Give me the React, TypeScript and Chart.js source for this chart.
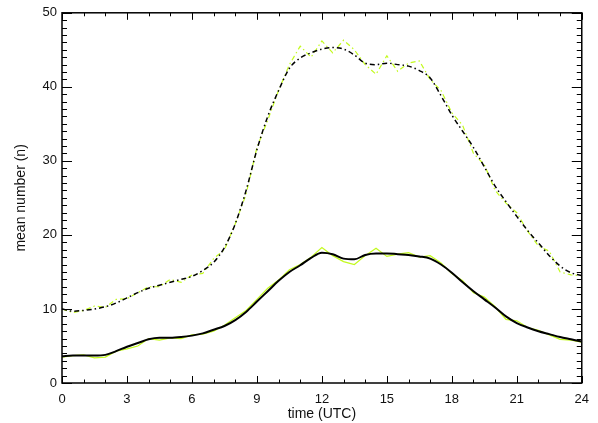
import React, { useEffect, useRef } from "react";
import { Chart, registerables } from "chart.js";

Chart.register(...registerables);

const hours = [
  0, 0.5, 1, 1.5, 2, 2.5, 3, 3.5, 4, 4.5, 5, 5.5, 6, 6.5, 7, 7.5, 8, 8.5, 9, 9.5,
  10, 10.5, 11, 11.5, 12, 12.5, 13, 13.5, 14, 14.5, 15, 15.5, 16, 16.5, 17, 17.5,
  18, 18.5, 19, 19.5, 20, 20.5, 21, 21.5, 22, 22.5, 23, 23.5, 24,
];

const upperSmooth = [
  10.0, 9.7, 9.8, 10.0, 10.3, 10.8, 11.5, 12.2, 12.8, 13.2, 13.6, 14.0, 14.4, 15.2,
  16.3, 18.3, 21.5, 26.0, 31.5, 36.0, 39.5, 42.5, 43.9, 44.6, 45.1, 45.3, 45.1, 44.3,
  43.2, 43.0, 43.2, 43.0, 42.8, 42.2, 41.2, 38.8, 36.2, 34.0, 31.8, 29.2, 26.6, 24.5,
  22.5, 20.6, 18.9, 17.2, 15.8, 14.9, 14.5,
];

const upperRaw = [
  10.0, 9.5, 9.8, 10.4, 10.2, 11.3, 11.4, 12.2, 13.0, 13.0, 14.0, 13.6, 14.6, 14.8,
  16.8, 18.0, 21.5, 25.5, 31.8, 35.5, 39.5, 43.0, 45.5, 44.0, 46.2, 44.6, 46.3, 45.0,
  43.0, 41.7, 44.2, 42.1, 43.2, 43.5, 41.0, 39.5, 36.5, 34.8, 31.0, 29.5, 26.0, 24.3,
  23.0, 20.5, 18.5, 17.8, 15.0, 14.6, 14.5,
];

const lowerSmooth = [
  3.6, 3.7, 3.7, 3.7, 3.8, 4.3, 4.9, 5.4, 5.9, 6.1, 6.1, 6.2, 6.4, 6.7, 7.2, 7.7,
  8.5, 9.6, 11.0, 12.4, 13.8, 15.0, 15.9, 16.9, 17.6, 17.4, 16.8, 16.7, 17.3, 17.5,
  17.5, 17.4, 17.3, 17.1, 16.8, 16.0, 14.9, 13.6, 12.4, 11.3, 10.2, 9.0, 8.1, 7.5,
  7.0, 6.6, 6.2, 5.9, 5.6,
];

const lowerRaw = [
  3.5, 3.7, 3.8, 3.4, 3.5, 4.3, 4.6, 5.0, 6.0, 5.8, 6.1, 6.0, 6.5, 6.6, 7.0, 7.8,
  8.8, 9.8, 11.3, 12.8, 13.9, 15.3, 16.0, 17.0, 18.3, 17.2, 16.4, 16.0, 17.2, 18.2,
  17.1, 17.4, 17.6, 17.0, 17.2, 16.2, 14.8, 13.8, 12.2, 11.6, 10.3, 8.6, 8.4, 7.5,
  7.1, 6.5, 5.9, 5.8, 5.5,
];

const xTicks = [0, 3, 6, 9, 12, 15, 18, 21, 24];
const xMinor = [1, 2, 4, 5, 7, 8, 10, 11, 13, 14, 16, 17, 19, 20, 22, 23];
const yTicks = [0, 10, 20, 30, 40, 50];

const FONT = "'Liberation Sans', 'DejaVu Sans', sans-serif";
const YELLOW = "rgb(195,250,30)";
const DASHDOT = [5, 3, 1.5, 3];

const framePlugin = {
  id: "frame",
  afterDraw(chart: any) {
    const { ctx, chartArea } = chart;
    const xs = chart.scales.x;
    const ys = chart.scales.y;
    const { left, right, top, bottom } = chartArea;
    ctx.save();
    ctx.strokeStyle = "#000";
    ctx.lineWidth = 1.5;
    ctx.setLineDash([]);
    ctx.strokeRect(left, top, right - left, bottom - top);
    ctx.lineWidth = 1;
    ctx.beginPath();
    const xVals: Array<[number, number]> = [];
    xTicks.forEach((v) => xVals.push([v, 7]));
    xMinor.forEach((v) => xVals.push([v, 3.5]));
    xVals.forEach(([v, len]) => {
      const px = Math.round(xs.getPixelForValue(v)) + 0.5;
      ctx.moveTo(px, bottom);
      ctx.lineTo(px, bottom - len);
      ctx.moveTo(px, top);
      ctx.lineTo(px, top + len);
    });
    for (let v = 0; v <= 50; v += 1) {
      const major = v % 10 === 0;
      const len = major ? 10 : 5;
      const py = Math.round(ys.getPixelForValue(v)) + 0.5;
      ctx.moveTo(left, py);
      ctx.lineTo(left + len, py);
      ctx.moveTo(right, py);
      ctx.lineTo(right - len, py);
    }
    ctx.stroke();
    ctx.restore();
  },
};

export default function App() {
  const ref = useRef<HTMLCanvasElement | null>(null);
  useEffect(() => {
    document.body.style.margin = "0";
    if (!ref.current) return;
    const mk = (arr: number[]) => hours.map((h, i) => ({ x: h, y: arr[i] }));
    const chart = new Chart(ref.current, {
      type: "line",
      data: {
        datasets: [
          {
            data: mk(upperSmooth),
            borderColor: "#000",
            borderWidth: 1.5,
            borderDash: DASHDOT,
            pointRadius: 0,
            cubicInterpolationMode: "monotone",
            fill: false,
          },
          {
            data: mk(lowerSmooth),
            borderColor: "#000",
            borderWidth: 2,
            pointRadius: 0,
            cubicInterpolationMode: "monotone",
            fill: false,
          },
          {
            data: mk(upperRaw),
            borderColor: YELLOW,
            borderWidth: 1.2,
            borderDash: DASHDOT,
            pointRadius: 0,
            tension: 0,
            fill: false,
          },
          {
            data: mk(lowerRaw),
            borderColor: YELLOW,
            borderWidth: 1.2,
            pointRadius: 0,
            tension: 0,
            fill: false,
          },
        ],
      },
      options: {
        animation: false,
        responsive: false,
        maintainAspectRatio: false,
        layout: { padding: { left: 0, right: 14, top: 12, bottom: 0 } },
        plugins: { legend: { display: false }, tooltip: { enabled: false } },
        scales: {
          x: {
            type: "linear",
            min: 0,
            max: 24,
            afterBuildTicks: (s: any) => {
              s.ticks = xTicks.map((v) => ({ value: v }));
            },
            afterFit: (s: any) => {
              s.height = 40;
            },
            grid: { display: false, drawTicks: false },
            border: { display: false },
            ticks: {
              color: "#111",
              font: { family: FONT, size: 13 },
              padding: 9,
              maxRotation: 0,
              autoSkip: false,
            },
            title: {
              display: true,
              text: "time (UTC)",
              color: "#111",
              font: { family: FONT, size: 14 },
              padding: { top: 0, bottom: 0 },
            },
          },
          y: {
            type: "linear",
            min: 0,
            max: 50,
            afterBuildTicks: (s: any) => {
              s.ticks = yTicks.map((v) => ({ value: v }));
            },
            afterFit: (s: any) => {
              s.width = 62;
            },
            grid: { display: false, drawTicks: false },
            border: { display: false },
            ticks: {
              color: "#111",
              font: { family: FONT, size: 13 },
              padding: 5,
              autoSkip: false,
            },
            title: {
              display: true,
              text: "mean number (n)",
              color: "#111",
              font: { family: FONT, size: 14 },
              padding: { top: 13, bottom: 0 },
            },
          },
        },
      },
      plugins: [framePlugin],
    });
    return () => chart.destroy();
  }, []);
  return <canvas ref={ref} width={598} height={423} style={{ display: "block" }} />;
}
